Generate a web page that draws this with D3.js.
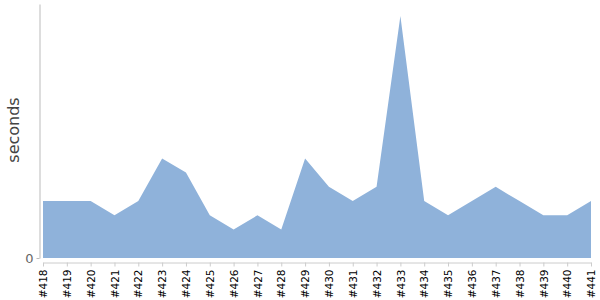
<!DOCTYPE html>
<html>
<head>
<meta charset="utf-8">
<script src="https://cdn.jsdelivr.net/npm/d3@7"></script>
<style>
  body { margin: 0; background: #fff; }
  svg { display: block; font-family: "DejaVu Sans", Verdana, sans-serif; }
</style>
</head>
<body>
<svg id="chart" width="600" height="300"></svg>
<script>
// build numbers and their durations (seconds)
var builds = ["#418", "#419", "#420", "#421", "#422", "#423", "#424", "#425", "#426", "#427", "#428", "#429",
              "#430", "#431", "#432", "#433", "#434", "#435", "#436", "#437", "#438", "#439", "#440", "#441"];
var durations = [4, 4, 4, 3, 4, 7, 6, 3, 2, 3, 2, 7, 5, 4, 5, 17, 4, 3, 4, 5, 4, 3, 3, 4];
var yTicks = [0];

var svg = d3.select("#chart");

var x = d3.scalePoint().domain(builds).range([43, 591]);
var y = d3.scaleLinear().domain([0, 17.85]).range([258, 4]);

var data = builds.map(function(b, i) { return {build: b, value: durations[i]}; });

// area
var area = d3.area()
    .x(function(d) { return x(d.build); })
    .y0(y(0))
    .y1(function(d) { return y(d.value); });

svg.append("path")
    .datum(data)
    .attr("fill", "#8fb2da")
    .attr("d", area);

// y axis
var yAxis = svg.append("g")
    .attr("transform", "translate(39.5,0)")
    .call(d3.axisLeft(y).tickValues(yTicks).tickSize(3).tickSizeOuter(0));
yAxis.select(".domain").attr("stroke", "#bbb");
yAxis.selectAll(".tick line").attr("stroke", "#bbb");
yAxis.selectAll(".tick text")
    .attr("fill", "#666")
    .attr("font-size", 13)
    .attr("font-family", "DejaVu Sans, sans-serif")
    .attr("x", -6);

// x axis
var xAxis = svg.append("g")
    .attr("transform", "translate(0,262.5)")
    .call(d3.axisBottom(x).tickSize(4).tickSizeOuter(0));
xAxis.select(".domain").attr("stroke", "#ccc");
xAxis.selectAll(".tick line").attr("stroke", "#ccc");
xAxis.selectAll(".tick text")
    .attr("fill", "#000")
    .attr("font-size", 10.5)
    .attr("font-family", "DejaVu Sans, sans-serif")
    .attr("transform", "rotate(-90)")
    .attr("x", -7)
    .attr("y", 0)
    .attr("dy", "0.35em")
    .style("text-anchor", "end");

// y axis title
svg.append("text")
    .attr("transform", "translate(19,130) rotate(-90)")
    .attr("text-anchor", "middle")
    .attr("font-size", 16)
    .attr("fill", "#444")
    .text("seconds");
</script>
</body>
</html>
